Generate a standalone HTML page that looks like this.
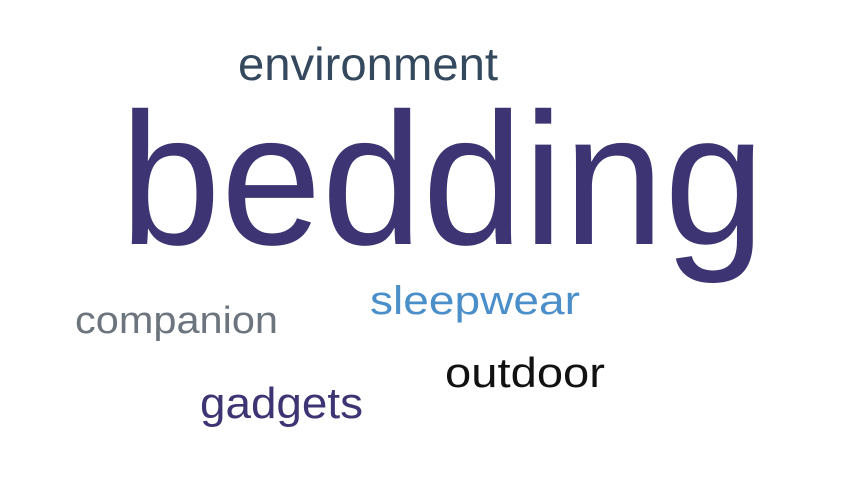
<!DOCTYPE html>
<html><head><meta charset="utf-8"><style>
html,body{margin:0;padding:0;background:#fff;width:850px;height:478px;overflow:hidden}
svg text{font-family:"Liberation Sans",sans-serif}
</style></head><body>
<svg id="cloud" width="850" height="478" viewBox="0 0 850 478" xmlns="http://www.w3.org/2000/svg"></svg>
<script>
const words = ["environment","bedding","sleepwear","companion","outdoor","gadgets"];
const weights = [46, 188, 40, 38, 42, 44];
const colors = ["#34495e","#3d3573","#4a8fc9","#6c757d","#111111","#3d3573"];
// layout placements (left x, baseline y, width)
const layoutX = [238, 120, 370, 75, 445, 200];
const layoutY = [80, 244, 314, 333, 387, 418];
const layoutW = [260, 645, 210, 203, 160, 163];
const svg = document.getElementById('cloud');
words.forEach((w,i)=>{
  const t = document.createElementNS('http://www.w3.org/2000/svg','text');
  
  
  t.setAttribute('x', layoutX[i]);
  t.setAttribute('y', layoutY[i]);
  t.setAttribute('font-size', weights[i]);
  t.setAttribute('fill', colors[i]);
  t.setAttribute('textLength', layoutW[i]);
  t.setAttribute('lengthAdjust', 'spacingAndGlyphs');
  t.textContent = w;
  svg.appendChild(t);
});
</script>
</body></html>
